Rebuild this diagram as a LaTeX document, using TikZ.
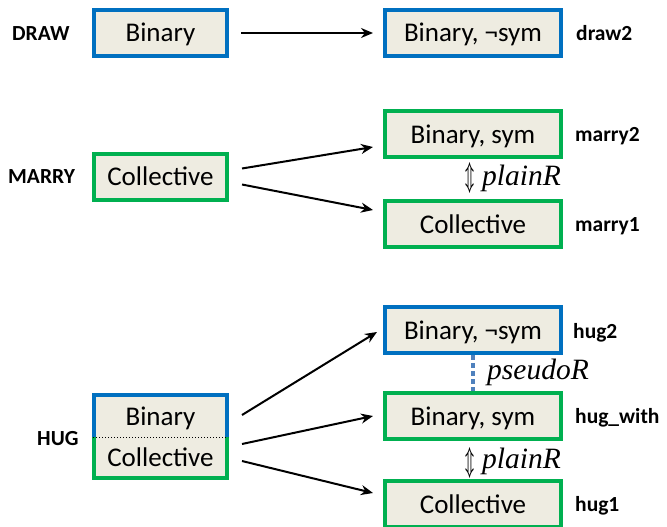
\documentclass[tikz,border=0pt]{standalone}
\usepackage{fontspec}
\usepackage{graphicx}
\setmainfont{Carlito}
\newfontfamily\timesit{Liberation Serif}
\usetikzlibrary{arrows.meta,calc}
\definecolor{boxblue}{HTML}{0070C0}
\definecolor{boxgreen}{HTML}{00B050}
\definecolor{boxfill}{HTML}{EEECE1}
\definecolor{dotblue}{HTML}{4F81BD}
\begin{document}
\begin{tikzpicture}[x=1pt,y=-1pt,
  box/.style={rectangle, fill=boxfill, line width=4pt, minimum height=46pt,
    text height=20pt, text depth=2pt, inner sep=0pt,
    font=\fontsize{27}{32}\selectfont},
  leftbox/.style={box, minimum width=133pt},
  rightbox/.style={box, minimum width=176pt},
  bluebox/.style={draw=boxblue},
  greenbox/.style={draw=boxgreen},
  halfbox/.style={rectangle, fill=boxfill, minimum width=133pt, outer sep=0pt,
    text height=20pt, text depth=2pt, inner sep=0pt,
    font=\fontsize{27}{32}\selectfont},
  tag/.style={anchor=west, inner sep=0pt, font=\fontsize{21.5}{26}\selectfont\bfseries,
    text height=15pt, text depth=4pt},
  rel/.style={anchor=base west, inner sep=0pt, font=\fontsize{29.5}{34}\selectfont\timesit\itshape},
  updown/.style={inner sep=0pt},
  arr/.style={line width=2pt, -{Stealth[length=12pt,width=10pt]}},
  border/.style={line width=4pt}
]
\useasboundingbox (0,0) rectangle (667,527);

% DRAW
\node[leftbox,bluebox] (d1) at (160.5,33) {Binary};
\node[rightbox,bluebox] (d2) at (473,33) {Binary, ¬sym};
\node[tag] (dl) at (12,35) {DRAW};
\node[tag] (d2l) at (576,35) {draw2};
\draw[arr] ($(d1.east)+(12,0)$) -- ($(d2.west)+(-10,0)$);

% MARRY
\node[leftbox,greenbox] (m1) at (160.5,176.5) {Collective};
\node[rightbox,greenbox] (m2) at (473,134) {Binary, sym};
\node[rightbox,greenbox] (m3) at (473,224) {Collective};
\node[tag] (ml) at (8,178) {MARRY};
\node[tag] (m2l) at (575,136) {marry2};
\node[tag] (m3l) at (575,226) {marry1};
\node[updown] (mu) at (470,178) {\resizebox*{9pt}{30pt}{\boldmath$\Updownarrow$}};
\node[rel] (mr) at (482,185) {plainR};
\draw[arr] ($(m1.east)+(13,-8)$) -- ($(m2.west)+(-10,13)$);
\draw[arr] ($(m1.east)+(13,8)$) -- ($(m3.west)+(-10,-14)$);

% HUG
\node[halfbox, minimum height=42pt] (hB) at (160.5,416) {Binary};
\node[halfbox, minimum height=41pt] (hC) at (160.5,457.5) {Collective};
\draw[border, boxblue] (hB.south west) -- (hB.north west) -- (hB.north east) -- (hB.south east);
\draw[border, boxgreen] (hC.north west) -- (hC.south west) -- (hC.south east) -- (hC.north east);
\draw[line width=1pt, dotted] ($(hB.south west)+(-1,0)$) -- ($(hB.south east)+(1,0)$);
\node[tag] (hl) at (37,440) {HUG};

\node[rightbox,bluebox] (h2) at (473,330) {Binary, ¬sym};
\node[rightbox,greenbox] (hw) at (473,416) {Binary, sym};
\node[rightbox,greenbox] (h1) at (473,504) {Collective};
\node[tag] (h2l) at (573,333) {hug2};
\node[tag] (hwl) at (575,418) {hug\_with};
\node[tag] (h1l) at (575,506) {hug1};

\draw[dotblue, line width=4pt, dash pattern=on 5pt off 3pt] (h2.south) -- (hw.north);
\node[rel] (pr) at (487,379) {pseudoR};
\node[updown] (hu) at (470,463) {\resizebox*{9pt}{30pt}{\boldmath$\Updownarrow$}};
\node[rel] (hr) at (482,468) {plainR};

\draw[arr] ($(hB.east)+(15,-1)$) -- ($(h2.west)+(-6,2)$);
\draw[arr] ($(hC.east)+(15,-13.5)$) -- ($(hw.west)+(-10,0)$);
\draw[arr] ($(hC.east)+(15,3.5)$) -- ($(h1.west)+(-10,-11)$);
\end{tikzpicture}
\end{document}
